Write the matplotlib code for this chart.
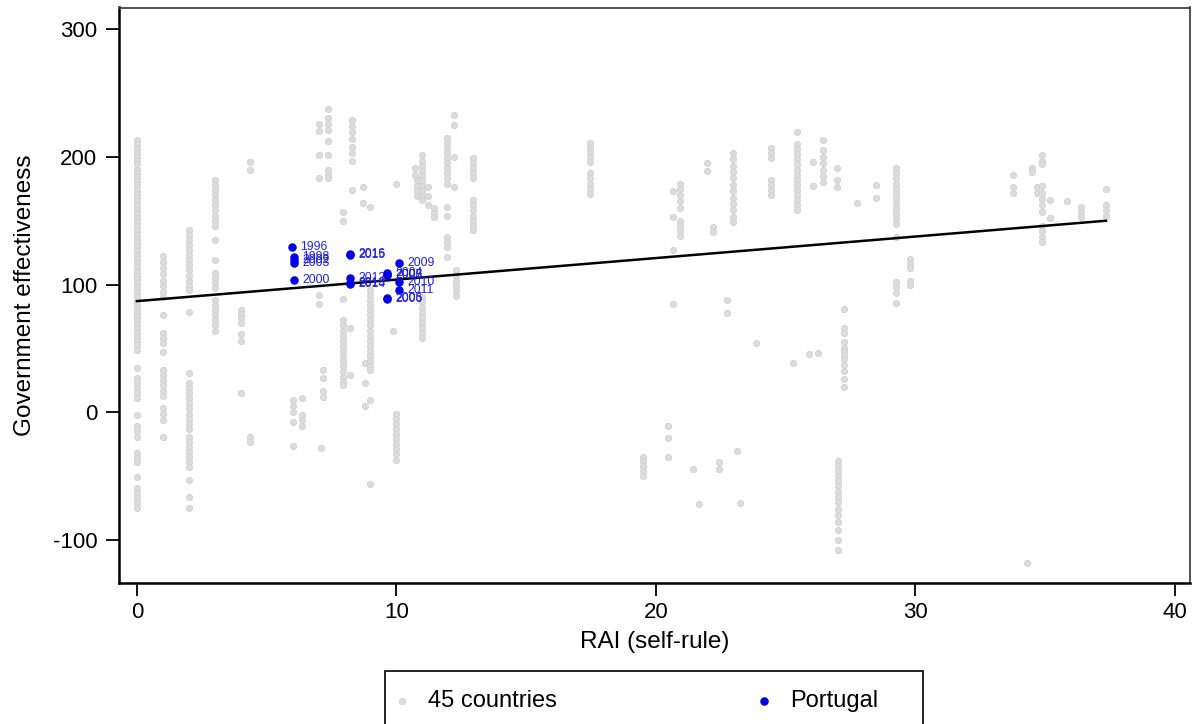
import matplotlib.pyplot as plt
import numpy as np
from matplotlib.patches import Rectangle

plt.rcParams["font.family"] = ["Liberation Sans", "DejaVu Sans"]
plt.rcParams["axes.unicode_minus"] = False

# Government effectiveness of the 45 countries, grouped by RAI (self-rule) value
ge_by_rai = {
    0.0: [213, 210, 206, 203, 200, 197, 194, 190, 187, 184, 181, 178, 174, 171, 168,
          165, 162, 158, 155, 152, 149, 146, 142, 139, 136, 133, 130, 126, 123, 120,
          117, 114, 110, 107, 104, 101, 98, 94, 91, 88, 85, 82, 78, 75, 72, 69, 66,
          62, 59, 56, 53, 49, 35, 27, 23, 19, 15, 11, -2, -11, -15, -19, -32, -36,
          -39, -51, -59, -63, -67, -71, -75],
    1.0: [122, 118, 113, 108, 103, 99, 94, 90, 76, 62, 58, 54, 47, 33, 29, 25, 21, 17,
          13, 3, -1, -6, -19.5],
    2.0: [143, 139, 135, 131, 127, 123, 119, 115, 111, 107, 103, 99, 96, 78.5, 30.7,
          23, 19, 15, 11, 7, 3, -1, -5, -9, -13, -19, -23, -27, -31, -35, -39, -43,
          -53, -66, -75],
    3.0: [182, 178, 174, 170, 166, 162, 158, 154, 150, 146, 135, 119, 109, 105, 101,
          97, 88, 84, 80, 76, 72, 68, 64],
    4.0: [80, 77, 74, 70, 61, 56, 15],
    4.35: [196, 190, -19.5, -23],
    6.0: [9.6, 5, 0, -7.4, -26],
    6.37: [11, -2, -6, -11],
    7.0: [226, 220, 201, 183, 92, 85],
    7.08: [-28],
    7.17: [33, 27, 17, 12],
    7.35: [237, 230, 226, 221, 212, 201, 190, 186, 183],
    7.95: [157, 150, 89, 72, 68, 64, 60, 56, 52, 48, 44, 40, 36, 32, 28, 24, 21],
    8.2: [66, 29],
    8.3: [229, 224, 219, 214, 208, 203, 197, 174],
    8.7: [176, 164],
    8.8: [38.5, 22.6, 4.9],
    9.0: [161, 96, 92, 88, 84, 80, 76, 72, 68, 64, 60, 56, 52, 48, 44, 40, 36, 33,
          9.6, -56],
    9.87: [64],
    10.0: [179, -1, -5, -9, -13, -17, -21, -25, -29, -33, -37],
    10.7: [191, 186],
    10.8: [182, 177, 173, 169],
    10.97: [201, 197, 193, 189, 185, 181, 177, 173, 169, 166, 90, 86, 82, 78, 74, 70,
            66, 62, 58],
    11.2: [176, 169, 162],
    11.45: [160, 156, 153],
    11.95: [215, 211, 207, 203, 199, 195, 191, 187, 183, 179, 161, 154, 137, 133, 129,
            121.6],
    12.2: [233, 225, 200, 176],
    12.3: [111, 107, 103, 99, 95, 91],
    12.95: [199, 195, 191, 187, 183, 166, 162, 158, 154, 150, 146, 143],
    17.46: [211, 207, 204, 200, 196, 187, 183, 179, 175, 171],
    19.5: [-35, -38, -42, -46, -50],
    20.47: [-10.5, -20, -35],
    20.65: [173, 153, 127, 85],
    20.93: [179, 175, 170, 165, 160, 150, 146, 142, 138],
    21.43: [-44.5],
    21.66: [-72],
    21.95: [195, 189],
    22.2: [145, 141],
    22.43: [-39, -44],
    22.72: [88, 77.6],
    22.98: [203, 198, 193, 188, 183, 178, 173, 168, 163, 158, 153, 149],
    23.12: [-30],
    23.24: [-71],
    23.85: [54],
    24.45: [207, 203, 199, 182, 178, 174, 170],
    25.27: [38.5],
    25.45: [219.6, 210, 206, 202, 198, 194, 190, 186, 182, 178, 174, 170, 166, 162,
            158],
    25.9: [45.6],
    26.05: [196, 177],
    26.24: [46.6],
    26.44: [213, 205, 200, 195, 190, 185, 180],
    26.96: [191, 182, 176],
    27.0: [-38, -42, -46, -50, -54, -58, -62, -66, -70, -76, -80, -86, -92, -100, -108],
    27.24: [81, 66, 62, 55, 50, 48, 45, 42, 37, 32, 26, 20],
    27.73: [163.5],
    28.48: [178, 168],
    29.27: [191, 187, 183, 179, 175, 171, 167, 163, 159, 155, 151, 147, 137, 102, 98,
            93, 85.5],
    29.8: [120, 116, 113, 103, 100],
    33.75: [186, 176, 172],
    34.28: [-118],
    34.5: [191, 188],
    34.67: [176, 172],
    34.86: [201, 197, 194, 177, 172, 167, 162, 157, 146, 142, 137, 133],
    35.18: [166, 152],
    35.84: [165],
    36.37: [161, 157, 153],
    37.34: [175, 162, 158, 154],
}

# Portugal
pt_year = [1996, 1998, 2000, 2002, 2003, 2004, 2005, 2006, 2007, 2008, 2009, 2010,
           2011, 2012, 2013, 2014, 2015, 2016]
pt_rai = [5.96, 6.06, 6.06, 6.06, 6.06, 9.65, 9.65, 9.65, 9.65, 9.65, 10.1, 10.1,
          10.1, 8.2, 8.2, 8.2, 8.2, 8.2]
pt_ge = [129, 121.8, 103.5, 119.2, 116.8, 109.2, 89.8, 88.4, 107.8, 107.2, 116.8,
         102.2, 95.7, 104.8, 100.8, 100.4, 123, 124]

# linear fit
fit_intercept = 87.0
fit_slope = 1.685

grey_x = []
grey_y = []
for rai, values in ge_by_rai.items():
    grey_x.extend([rai] * len(values))
    grey_y.extend(values)

fig = plt.figure(figsize=(11.92, 7.24), dpi=100)
ax = fig.add_axes([119 / 1192, 1 - 583 / 724, (1190 - 119) / 1192, (583 - 7.5) / 724])

ax.scatter(grey_x, grey_y, s=20, color="#dcdcdc", edgecolors="#d0d0d0",
           linewidths=0.6, label="45 countries", zorder=2)

line_x = np.array([min(grey_x), max(grey_x)])
ax.plot(line_x, fit_intercept + fit_slope * line_x, color="black", lw=1.8, zorder=3)

ax.scatter(pt_rai, pt_ge, s=26, color="#0000e6", label="Portugal", zorder=4)
for year, rai, ge in zip(pt_year, pt_rai, pt_ge):
    ax.annotate(str(year), (rai, ge), xytext=(6, 0), textcoords="offset points",
                va="center", ha="left", fontsize=8.7, color="#2020e0", zorder=5)

ax.set_xlim(-0.69, 40.58)
ax.set_ylim(-133.6, 316.8)
ax.set_xticks([0, 10, 20, 30, 40])
ax.set_yticks([-100, 0, 100, 200, 300])
ax.tick_params(axis="both", direction="out", length=9.5, width=1.3, labelsize=16,
               color="black")
ax.tick_params(axis="y", pad=6)
ax.tick_params(axis="x", pad=4)

for side in ["left", "bottom"]:
    ax.spines[side].set_linewidth(1.8)
    ax.spines[side].set_color("black")
for side in ["top", "right"]:
    ax.spines[side].set_linewidth(1.3)
    ax.spines[side].set_color("#444444")

ax.set_xlabel("RAI (self-rule)", fontsize=17.5, labelpad=6)
ax.set_ylabel("Government effectiveness", fontsize=17.5, labelpad=12)

# legend below the plot, its box runs past the bottom edge
fig.patches.append(Rectangle((385 / 1192, -0.05), 538 / 1192, 0.05 + (724 - 671) / 724,
                             transform=fig.transFigure, fill=False,
                             edgecolor="black", linewidth=1.2))
leg = fig.legend(loc="upper left", bbox_to_anchor=(390 / 1192, 1 - 690 / 724, 488 / 1192, 0),
                 mode="expand", ncol=2, fontsize=17, frameon=False,
                 markerscale=1.0, handletextpad=0.6, borderpad=0,
                 handlelength=1.0, borderaxespad=0)

fig.savefig("out.png", dpi=100)
